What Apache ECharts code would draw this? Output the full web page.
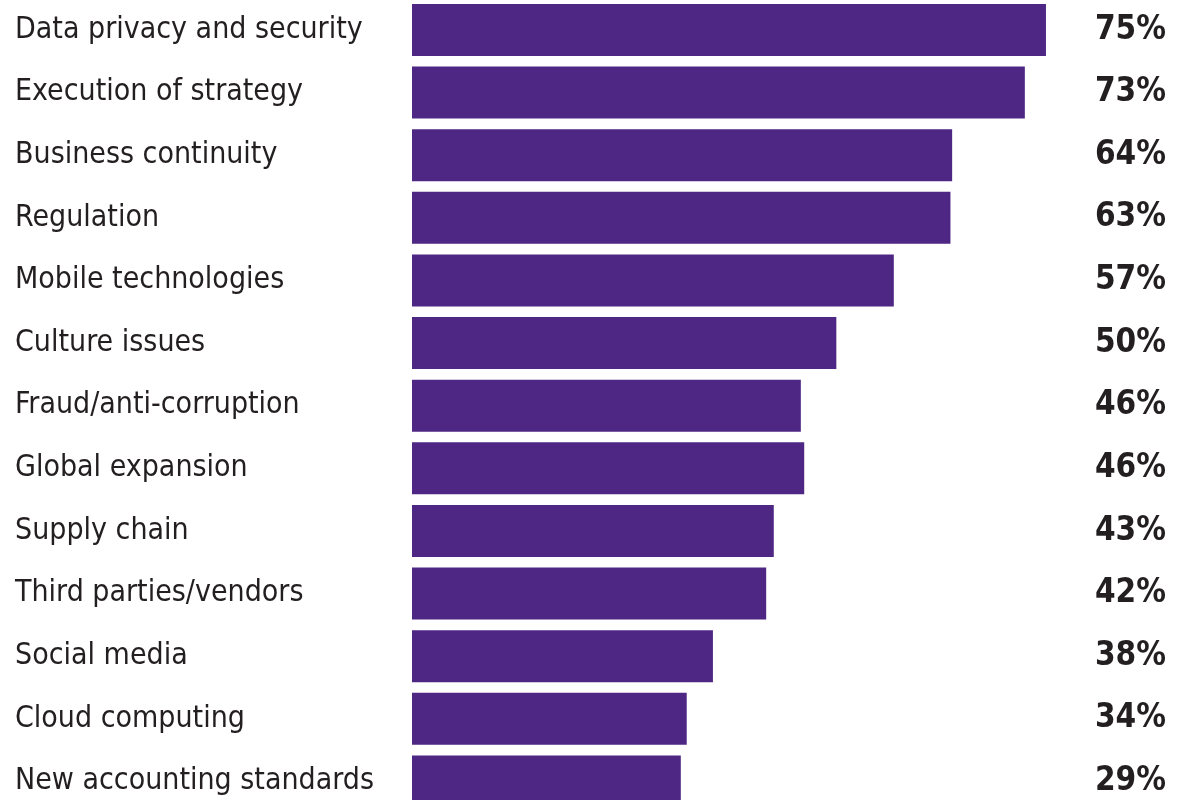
<!DOCTYPE html>
<html>
<head>
<meta charset="utf-8">
<script src="https://cdn.jsdelivr.net/npm/echarts@6/dist/echarts.min.js"></script>
<style>
html,body{margin:0;padding:0;background:#fff;}
#chart{width:1184px;height:800px;}
</style>
</head>
<body>
<div id="chart"></div>
<script>
const categories = [
  "Data privacy and security",
  "Execution of strategy",
  "Business continuity",
  "Regulation",
  "Mobile technologies",
  "Culture issues",
  "Fraud/anti-corruption",
  "Global expansion",
  "Supply chain",
  "Third parties/vendors",
  "Social media",
  "Cloud computing",
  "New accounting standards"
];
// printed percentages
const percentLabels = [75, 73, 64, 63, 57, 50, 46, 46, 43, 42, 38, 34, 29];
// bar lengths as drawn in the picture (same % scale)
const barLengths = [75, 72.5, 63.9, 63.7, 57.0, 50.2, 46.0, 46.4, 42.8, 41.9, 35.6, 32.5, 31.8];

const chart = echarts.init(document.getElementById('chart'), null, {renderer: 'canvas'});
const labelFont = '"Liberation Sans Narrow", "DejaVu Sans Condensed", "Arial Narrow", sans-serif';
chart.setOption({
  animation: false,
  backgroundColor: '#ffffff',
  grid: {left: 412, width: 754, top: -1.3, height: 814, containLabel: false, outerBoundsMode: 'none'},
  xAxis: {
    type: 'value', min: 0, max: 89.2,
    show: false
  },
  yAxis: [{
    type: 'category', data: categories, inverse: true,
    axisLine: {show: false}, axisTick: {show: false}, splitLine: {show: false},
    axisLabel: {
      align: 'left', margin: 397,
      fontFamily: labelFont, fontSize: 30, color: '#231f20'
    }
  }, {
    type: 'category', data: percentLabels.map(v => v + '%'), inverse: true, position: 'right',
    axisLine: {show: false}, axisTick: {show: false}, splitLine: {show: false},
    axisLabel: {
      align: 'right', margin: 0,
      fontFamily: labelFont, fontSize: 33, fontWeight: 'bold', color: '#231f20'
    }
  }],
  series: [{
    type: 'bar', data: barLengths, barWidth: 52,
    itemStyle: {color: '#4e2683'},
    yAxisIndex: 0
  }]
});
</script>
</body>
</html>
